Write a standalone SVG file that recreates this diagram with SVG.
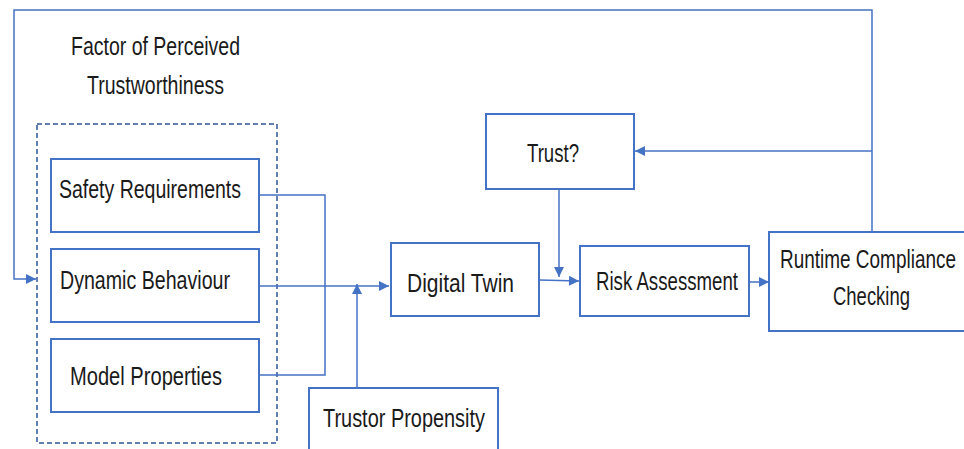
<svg xmlns="http://www.w3.org/2000/svg" width="964" height="449" viewBox="0 0 964 449">
  <style>
    .box { fill: #ffffff; stroke: #4472c4; stroke-width: 2; }
    .group { fill: none; stroke: #2f5597; stroke-width: 1.5; stroke-dasharray: 5 3; }
    .wire { fill: none; stroke: #4472c4; stroke-width: 1.5; }
    .lbl { font-family: "Liberation Sans", Arial, sans-serif; font-size: 25.5px; fill: #1a1a1a; }
  </style>
  <defs>
    <marker id="arrow" viewBox="0 0 10 10" refX="10" refY="5" markerWidth="10" markerHeight="10" markerUnits="userSpaceOnUse" orient="auto">
      <path d="M0,0 L10,5 L0,10 Z" fill="#4472c4"/>
    </marker>
  </defs>

  <rect width="964" height="449" fill="#ffffff"/>

  <!-- group of trustworthiness factors -->
  <g id="factor-group">
    <rect class="group" x="37" y="124" width="240" height="319"/>
    <text class="lbl" x="71" y="55" textLength="169" lengthAdjust="spacingAndGlyphs">Factor of Perceived</text>
    <text class="lbl" x="87" y="94" textLength="137" lengthAdjust="spacingAndGlyphs">Trustworthiness</text>
  </g>

  <!-- connectors -->
  <g id="connectors">
    <!-- feedback loop from compliance checking back to the factors -->
    <polyline class="wire" points="872,232 872,10 14,10 14,279 36,279" marker-end="url(#arrow)"/>
    <!-- feedback to Trust? -->
    <polyline class="wire" points="872,151 635,151" marker-end="url(#arrow)"/>
    <!-- factors merge into Digital Twin -->
    <polyline class="wire" points="259,195 325,195 325,375 259,375"/>
    <polyline class="wire" points="259,286 389,286" marker-end="url(#arrow)"/>
    <!-- trustor propensity -->
    <polyline class="wire" points="357,388 357,284" marker-end="url(#arrow)"/>
    <!-- Digital Twin to Risk Assessment -->
    <polyline class="wire" points="539,280 579,281" marker-end="url(#arrow)"/>
    <!-- Trust? into the DT / risk link -->
    <polyline class="wire" points="559,189 559,277" marker-end="url(#arrow)"/>
    <!-- Risk Assessment to Runtime Compliance Checking -->
    <polyline class="wire" points="749,282 769,282" marker-end="url(#arrow)"/>
  </g>

  <g id="safety-requirements">
    <rect class="box" x="51" y="159" width="208" height="73"/>
    <text class="lbl" x="59" y="198" textLength="182" lengthAdjust="spacingAndGlyphs">Safety Requirements</text>
  </g>

  <g id="dynamic-behaviour">
    <rect class="box" x="51" y="249" width="208" height="73"/>
    <text class="lbl" x="60" y="289" textLength="170" lengthAdjust="spacingAndGlyphs">Dynamic Behaviour</text>
  </g>

  <g id="model-properties">
    <rect class="box" x="51" y="339" width="208" height="73"/>
    <text class="lbl" x="70" y="385" textLength="152" lengthAdjust="spacingAndGlyphs">Model Properties</text>
  </g>

  <g id="digital-twin">
    <rect class="box" x="391" y="243" width="148" height="73"/>
    <text class="lbl" x="407" y="292" textLength="107" lengthAdjust="spacingAndGlyphs">Digital Twin</text>
  </g>

  <g id="trustor-propensity">
    <rect class="box" x="309" y="388" width="189" height="80"/>
    <text class="lbl" x="323" y="427" textLength="162" lengthAdjust="spacingAndGlyphs">Trustor Propensity</text>
  </g>

  <g id="trust">
    <rect class="box" x="486" y="114" width="148" height="75"/>
    <text class="lbl" x="527" y="162" textLength="52" lengthAdjust="spacingAndGlyphs">Trust?</text>
  </g>

  <g id="risk-assessment">
    <rect class="box" x="580" y="246" width="169" height="70"/>
    <text class="lbl" x="596" y="290" textLength="142" lengthAdjust="spacingAndGlyphs">Risk Assessment</text>
  </g>

  <g id="runtime-compliance-checking">
    <rect class="box" x="769" y="232" width="210" height="99"/>
    <text class="lbl" x="780" y="268" textLength="176" lengthAdjust="spacingAndGlyphs">Runtime Compliance</text>
    <text class="lbl" x="833" y="305" textLength="77" lengthAdjust="spacingAndGlyphs">Checking</text>
  </g>
</svg>
